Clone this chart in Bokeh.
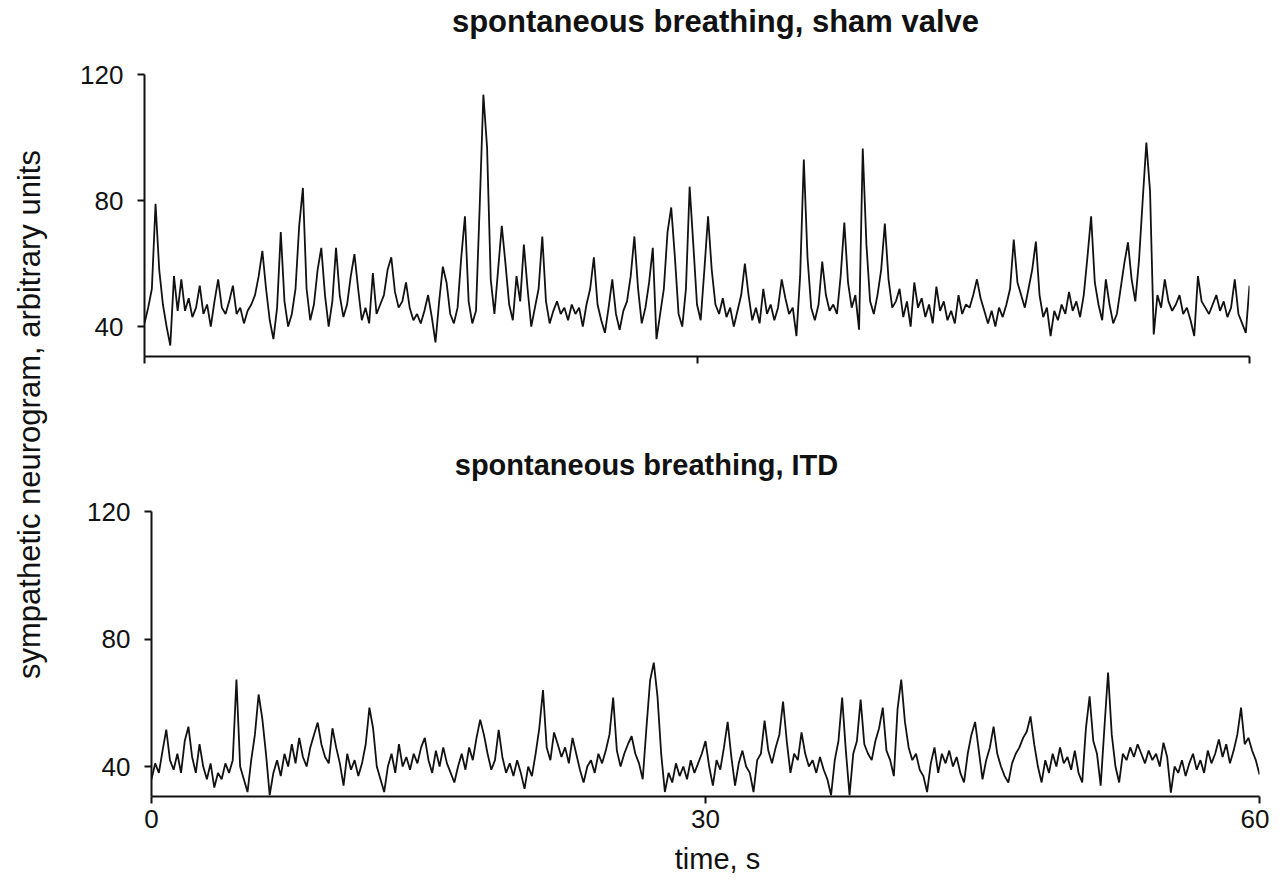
import numpy as np
from math import pi
from bokeh.plotting import figure
from bokeh.layouts import row, column
from bokeh.models import Range1d, FixedTicker, Label
from bokeh.embed import file_html
from bokeh.resources import INLINE

# ---------------- data ----------------
DT = 0.2

# top panel: spontaneous breathing, sham valve
sham_y = [
    41, 46, 52, 79, 58, 47, 40, 34, 56, 45,
    55, 45, 49, 43, 46, 53, 44, 47, 40, 48,
    55, 46, 44, 48, 53, 44, 46, 41, 45, 47,
    50, 56, 64, 52, 42, 36, 46, 70, 48, 40,
    44, 52, 72, 84, 52, 42, 47, 58, 65, 50,
    40, 48, 65, 50, 43, 47, 56, 63, 52, 42,
    46, 41, 57, 44, 47, 50, 58, 62, 51, 46,
    48, 54, 46, 42, 44, 41, 45, 50, 43, 35,
    48, 59, 54, 44, 41, 46, 62, 75, 48, 41,
    45, 78, 113.6, 97, 55, 44, 58, 72, 60, 47,
    42, 56, 48, 66, 52, 40, 46, 52, 68.6, 48,
    41, 45, 48, 44, 46, 42, 47, 44, 46, 40,
    47, 52, 62, 47, 42, 38, 46, 55, 44, 39,
    45, 48, 56, 68.6, 52, 41, 46, 54, 65, 36,
    44, 52, 70, 77.8, 62, 44, 40, 52, 84.4, 66,
    47, 42, 58, 75, 58, 47, 44, 49, 43, 46,
    40, 45, 50, 60, 50, 42, 46, 41, 52, 44,
    47, 42, 46, 55, 49, 44, 46, 37, 56, 93,
    62, 46, 42, 47, 60.6, 50, 45, 47, 44, 56,
    73, 54, 46, 50, 39, 96.5, 66, 48, 44, 50,
    58, 72.7, 55, 46, 48, 52, 43, 48, 40, 54,
    46, 49, 43, 47, 41, 52.7, 45, 48, 42, 45,
    41, 50, 44, 47, 46, 50, 55, 49, 45, 41,
    45, 40, 46, 43, 47, 52, 67.6, 54, 50, 46,
    52, 58, 67, 50, 43, 46, 37, 45, 42, 47,
    44, 51, 45, 48, 43, 50, 62, 75, 54, 47,
    42, 55, 47, 41, 44, 52, 60, 66.7, 55, 48,
    61, 80, 98.4, 83, 37.5, 50, 46, 55, 48, 45,
    47, 50, 44, 46, 42, 37, 56, 48, 46, 44,
    47, 50, 45, 48, 43, 46, 55, 44, 41, 38,
    53,
]

# bottom panel: spontaneous breathing, ITD
itd_y = [
    36, 41, 38, 45, 51.6, 42, 39, 44, 38, 48,
    52.5, 43, 38, 47, 40, 36, 41, 33.4, 38, 36,
    41, 38, 42, 67.3, 40, 36, 32, 42, 50, 62.6,
    55, 44, 31, 38, 42, 37, 44, 40, 47, 41,
    49, 43, 40, 46, 50, 53.8, 47, 43, 41, 52,
    46, 41, 34, 44, 39, 42, 37, 41, 47, 58.5,
    52, 40, 36, 32, 40, 44, 38, 47, 40, 43,
    39, 44, 41, 46, 49, 42, 38, 45, 40, 46,
    41, 38, 35, 40, 44, 39, 46, 42, 49, 54.7,
    50, 44, 39, 42, 51.5, 43, 38, 41, 37, 42,
    38, 33, 40, 37, 44, 52, 64, 46, 42, 50.7,
    47, 43, 46, 41, 49, 44, 39, 35, 40, 42,
    38, 44, 41, 45, 50, 61.6, 45, 40, 44, 47,
    49.5, 44, 41, 36, 52, 67, 72.6, 62, 44, 32,
    38, 35, 41, 37, 40, 36, 42, 38, 41, 44,
    48, 40, 34, 42, 39, 46, 54, 43, 34, 41,
    45, 40, 38, 32, 42, 44, 54.4, 45, 41, 46,
    50, 60.4, 48, 38, 44, 42, 50.7, 44, 40, 42,
    38, 43, 39, 36, 31, 42, 48, 61.6, 45, 31,
    44, 48, 61, 47, 44, 42, 48, 52, 58.5, 45,
    42, 37, 58, 67.3, 54, 46, 42, 44, 39, 37,
    32, 41, 46, 38, 44, 41, 45, 40, 43, 38,
    35, 44, 50, 54, 45, 36, 42, 46, 52.5, 44,
    40, 37, 35, 41, 44, 46, 49, 51, 55.7, 47,
    40, 35, 42, 38, 44, 40, 46, 41, 43, 39,
    45, 38, 35, 52, 62, 48, 44, 34, 52, 69.5,
    50, 40, 35, 44, 42, 46, 43, 47, 44, 41,
    45, 42, 44, 40, 47.5, 43, 31.8, 40, 38, 42,
    37, 41, 44, 39, 42, 38, 45, 41, 44, 48.5,
    43, 47, 41, 45, 50, 58.5, 47, 49, 45, 42,
    37.5,
]

x_ticks = [0, 30, 60]
y_ticks = [40, 80, 120]
title_top = "spontaneous breathing, sham valve"
title_bottom = "spontaneous breathing, ITD"
y_label = "sympathetic neurogram, arbitrary units"
x_label = "time, s"

sham_t = np.arange(len(sham_y)) * DT
itd_t = np.arange(len(itd_y)) * DT

FONT = "Liberation Sans"
INK = "#111111"
W = 1199


def style(p, show_x_labels):
    p.xaxis.ticker = FixedTicker(ticks=x_ticks)
    p.yaxis.ticker = FixedTicker(ticks=y_ticks)
    for ax in (p.xaxis[0], p.yaxis[0]):
        ax.axis_line_width = 2
        ax.axis_line_color = INK
        ax.major_tick_line_width = 2
        ax.major_tick_line_color = INK
        ax.major_tick_out = 7
        ax.major_tick_in = 0
        ax.minor_tick_line_color = None
        ax.major_label_text_font = FONT
        ax.major_label_text_font_size = "26px"
        ax.major_label_text_color = INK
    p.yaxis.major_label_standoff = 14
    p.xaxis.major_label_standoff = 6
    if not show_x_labels:
        p.xaxis.major_label_overrides = {t: "" for t in x_ticks}
    p.xgrid.grid_line_color = None
    p.ygrid.grid_line_color = None
    p.outline_line_color = None


def text_fig(width, height):
    f = figure(width=width, height=height, x_range=Range1d(0, width), y_range=Range1d(0, height),
               x_axis_type=None, y_axis_type=None, toolbar_location=None, output_backend="svg",
               min_border=0)
    f.outline_line_color = None
    f.xgrid.grid_line_color = None
    f.ygrid.grid_line_color = None
    return f


# ---------------- top title ----------------
ttl1 = text_fig(W, 44)
ttl1.add_layout(Label(x=645, y=23, text=title_top, text_align="center", text_baseline="middle",
                      text_font=FONT, text_font_size="31px", text_font_style="bold", text_color=INK))

# ---------------- top panel ----------------
top = figure(width=W, height=395, x_range=Range1d(0, 60), y_range=Range1d(30.5, 120),
             toolbar_location=None, output_backend="svg",
             min_border_left=74, min_border_right=20, min_border_top=30, min_border_bottom=83)
top.line(sham_t, sham_y, line_color=INK, line_width=1.8)
style(top, False)

# ---------------- bottom title ----------------
ttl2 = text_fig(W, 50)
ttl2.add_layout(Label(x=576, y=25, text=title_bottom, text_align="center", text_baseline="middle",
                      text_font=FONT, text_font_size="29px", text_font_style="bold", text_color=INK))

# ---------------- bottom panel ----------------
bot = figure(width=W, height=352, x_range=Range1d(0, 60), y_range=Range1d(30.6, 120),
             toolbar_location=None, output_backend="svg",
             min_border_left=81, min_border_right=10, min_border_top=22, min_border_bottom=45)
bot.line(itd_t, itd_y, line_color=INK, line_width=1.8)
style(bot, True)

# ---------------- x label ----------------
xl = text_fig(W, 33)
xl.add_layout(Label(x=647, y=16, text=x_label, text_align="center", text_baseline="middle",
                    text_font=FONT, text_font_size="29px", text_color=INK))

# ---------------- shared y label ----------------
lab = text_fig(70, 874)
lab.add_layout(Label(x=29, y=460, text=y_label, angle=pi / 2, text_align="center",
                     text_baseline="middle", text_font=FONT, text_font_size="31px", text_color=INK))

layout = row(lab, column(row(ttl1), row(top), row(ttl2), row(bot), row(xl)))
open("out.html", "w").write(file_html(layout, INLINE))
